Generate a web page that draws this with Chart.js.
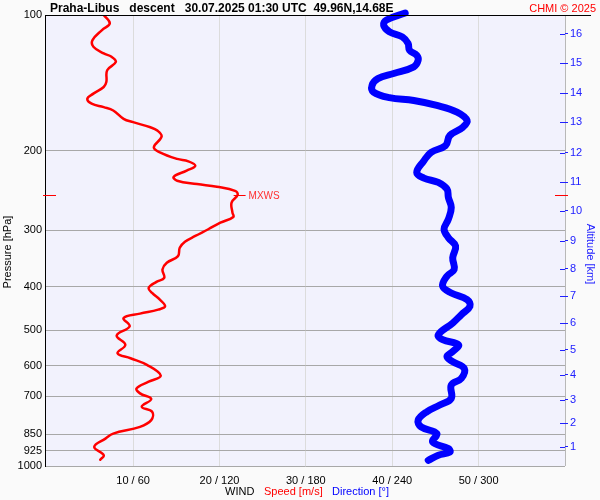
<!DOCTYPE html>
<html>
<head>
<meta charset="utf-8">
<title>Praha-Libus descent</title>
<script src="https://cdn.jsdelivr.net/npm/chart.js@4"></script>
<style>
    html, body { margin: 0; padding: 0; background: #fafafa; }
    #wrap { position: relative; width: 600px; height: 500px; }
</style>
</head>
<body>
<div id="wrap"><canvas id="chart" width="600" height="500"></canvas></div>
<script>
// wind speed profile (m/s) against pressure (hPa)
const speedPressure = [100, 104.4, 108, 113.7, 117.6, 121.7, 123.8, 127.1, 132.6, 140.8, 144.4, 149.4, 153.3, 157.3, 160.1,
    162.8, 169.9, 172.8, 177.4, 180.4, 186, 196.5, 201.6, 208.5, 211.1, 215.9, 221.4, 228.4, 233.1, 237.1, 240.4, 245.4,
    250.5, 260.5, 274.2, 280.4, 288.7, 298.6, 309, 318.2, 328.1, 342.4, 354.4, 366.6, 382.7, 390.7, 402.9, 413.4, 427.6,
    442.5, 450.1, 459.4, 469.9, 490.3, 513.5, 538.6, 562.3, 576.8, 596.7, 630.4, 650.1, 672.8, 690.2, 710.3, 738.9,
    758.1, 791.1, 818.8, 847.5, 869.5, 907.1, 946.6, 968.3];
const speedValues = [6.6, 7.3, 6.4, 5.3, 5.4, 6.6, 7.5, 8.0, 7.0, 6.9, 6.6, 5.4, 4.7, 5.2, 6.6,
    7.7, 8.9, 10.0, 12.0, 12.8, 13.3, 12.4, 13.1, 15.1, 16.4, 17.2, 16.2, 14.7, 15.1, 17.4, 19.7, 21.8,
    22.1, 21.4, 21.5, 21.6, 20.1, 18.7, 17.2, 16.0, 15.4, 15.2, 13.9, 13.4, 13.6, 12.7, 11.8, 12.2, 13.1,
    13.7, 12.9, 10.8, 8.9, 9.6, 8.1, 9.1, 8.2, 9.7, 11.6, 13.2, 11.8, 10.4, 10.8, 12.1, 11.0,
    12.2, 12.1, 10.8, 7.7, 6.8, 5.5, 6.6, 6.2];

// wind direction profile (deg)
const dirPressure = [99, 102.6, 105.3, 108.9, 111.8, 115.6, 119.7, 122.8, 126, 130.3, 134.8, 138.4, 143.2, 148.2, 152.5,
    154.7, 158.7, 164.2, 171.4, 177.4, 185, 194.8, 201.6, 210.4, 223.4, 229.9, 235.1, 243.2, 253.9, 267.3, 283.6,
    298.6, 311.7, 325.3, 345.4, 366.6, 379.4, 399.4, 413.4, 427.6, 442.5, 461.8, 482.1, 511.6, 524.8, 538.6, 557.4,
    571.9, 586.8, 607.3, 639.2, 661.2, 708.2, 732.5, 758.1, 791.1, 818.8, 847.5, 884.3, 915, 930.8, 946.6, 971.2];
const dirValues = [249, 236, 234, 238, 247, 251, 252, 257, 258, 255, 241, 230, 226, 227, 238,
    255, 271, 285, 292, 289, 280, 277, 267, 262, 257, 262, 272, 278, 279, 281, 279,
    276, 279, 284, 282, 283, 278, 275, 281, 292, 294, 288, 282, 272, 275, 286, 282,
    278, 282, 290, 288, 281, 281, 273, 264, 258, 260, 271, 268, 279, 280, 272, 265];

// axes
const pressureTicks = [100, 200, 300, 400, 500, 600, 700, 850, 925, 1000];
const speedTicks = [10, 20, 30, 40, 50, 60];
const altitudeKm = [1, 2, 3, 4, 5, 6, 7, 8, 9, 10, 11, 12, 13, 14, 15, 16];
const altitudePressure = [907, 803, 713, 628, 552, 483, 420, 365, 317, 272, 235, 202, 173, 149, 128, 110];

// maximum wind
const mxwsPressure = 250.5;
const mxwsSpeed = 22.1;

const FONT = 'Arial, "Liberation Sans", sans-serif';

const decorPlugin = {
    id: 'decor',
    beforeDraw(chart) {
        const c = chart.ctx, a = chart.chartArea;
        c.save();
        c.fillStyle = '#fafafa';
        c.fillRect(0, 0, chart.width, chart.height);
        c.fillStyle = '#f2f2fd';
        c.fillRect(a.left, a.top, a.right - a.left, a.bottom - a.top);
        c.restore();
    },
    afterDraw(chart) {
        const c = chart.ctx, a = chart.chartArea;
        const y = chart.scales.y, x = chart.scales.x;
        c.save();

        // top line
        c.strokeStyle = '#000';
        c.lineWidth = 1;
        c.beginPath();
        c.moveTo(a.left, Math.round(a.top) + 0.5);
        c.lineTo(591, Math.round(a.top) + 0.5);
        c.stroke();

        // title
        c.textBaseline = 'alphabetic';
        c.textAlign = 'left';
        c.fillStyle = '#000';
        c.font = 'bold 12px ' + FONT;
        c.fillText('Praha-Libus   descent   30.07.2025 01:30 UTC  49.96N,14.68E', 50, 12);
        c.textAlign = 'right';
        c.fillStyle = '#ff0000';
        c.font = '11px ' + FONT;
        c.fillText('CHMI \u00a9 2025', 596, 12);

        // inner part of altitude tick marks
        c.strokeStyle = '#2020ff';
        altitudePressure.forEach(p => {
            const py = Math.round(y.getPixelForValue(p)) + 0.5;
            c.beginPath();
            c.moveTo(a.right - 5, py);
            c.lineTo(a.right, py);
            c.stroke();
        });

        // maximum wind marks
        const my = Math.round(y.getPixelForValue(mxwsPressure)) + 0.5;
        const mx = x.getPixelForValue(mxwsSpeed);
        c.strokeStyle = '#ff0000';
        c.beginPath();
        c.moveTo(a.left - 2, my); c.lineTo(a.left + 11, my);
        c.moveTo(a.right - 10, my); c.lineTo(a.right + 3, my);
        c.moveTo(mx - 4, my); c.lineTo(mx + 8, my);
        c.stroke();
        c.fillStyle = '#ff3030';
        c.font = '10px ' + FONT;
        c.textAlign = 'left';
        c.textBaseline = 'middle';
        c.fillText('MXWS', mx + 11, my + 1);

        // bottom legend
        c.textBaseline = 'alphabetic';
        c.font = '11px ' + FONT;
        c.fillStyle = '#000';
        c.fillText('WIND', 225, 495);
        c.fillStyle = '#ff0000';
        c.fillText('Speed [m/s]', 264, 495);
        c.fillStyle = '#0000ff';
        c.fillText('Direction [\u00b0]', 332, 495);

        // axis titles
        c.textAlign = 'center';
        c.textBaseline = 'middle';
        c.save();
        c.translate(8, 252);
        c.rotate(-Math.PI / 2);
        c.fillStyle = '#000';
        c.fillText('Pressure [hPa]', 0, 0);
        c.restore();
        c.save();
        c.translate(590, 254);
        c.rotate(Math.PI / 2);
        c.fillStyle = '#2020ff';
        c.fillText('Altitude [km]', 0, 0);
        c.restore();

        c.restore();
    }
};

const ctx = document.getElementById('chart').getContext('2d');
new Chart(ctx, {
    type: 'scatter',
    data: {
        datasets: [
            {
                label: 'Speed [m/s]',
                data: speedPressure.map((p, i) => ({ x: speedValues[i], y: p })),
                xAxisID: 'x',
                yAxisID: 'y',
                showLine: true,
                borderColor: '#ff0000',
                borderWidth: 2.5,
                pointRadius: 0,
                tension: 0.4,
                borderCapStyle: 'round',
                borderJoinStyle: 'round'
            },
            {
                label: 'Direction [°]',
                data: dirPressure.map((p, i) => ({ x: dirValues[i], y: p })),
                xAxisID: 'xDir',
                yAxisID: 'y',
                showLine: true,
                borderColor: '#0000ff',
                borderWidth: 7,
                pointRadius: 0,
                tension: 0.4,
                clip: false,
                borderCapStyle: 'round',
                borderJoinStyle: 'round'
            }
        ]
    },
    options: {
        responsive: false,
        animation: false,
        events: [],
        layout: { padding: { top: 15, left: 0, right: 0, bottom: 0 } },
        plugins: {
            legend: { display: false },
            tooltip: { enabled: false }
        },
        scales: {
            x: {
                type: 'linear',
                position: 'bottom',
                min: -0.2,
                max: 60,
                afterBuildTicks: s => { s.ticks = speedTicks.map(v => ({ value: v })); },
                afterFit: s => { s.height = 34; },
                ticks: {
                    color: '#000',
                    font: { size: 11, family: FONT },
                    padding: 8,
                    maxRotation: 0,
                    autoSkip: false,
                    callback: v => v === 60 ? '' : v + ' / ' + v * 6
                },
                grid: {
                    drawTicks: false,
                    color: c => c.tick && c.tick.value === 60 ? '#b8b8b8' : '#dcdcdc'
                },
                border: { display: false }
            },
            xDir: {
                type: 'linear',
                display: false,
                min: -1.2,
                max: 360
            },
            y: {
                type: 'logarithmic',
                position: 'left',
                reverse: true,
                min: 100,
                max: 1000,
                afterBuildTicks: s => { s.ticks = pressureTicks.map(v => ({ value: v })); },
                afterFit: s => { s.width = 45; },
                ticks: {
                    color: '#000',
                    font: { size: 11, family: FONT },
                    padding: 3,
                    autoSkip: false,
                    callback: v => String(v)
                },
                grid: { drawTicks: false, color: '#a8a8a8' },
                border: { display: true, color: '#000', width: 1 }
            },
            yAlt: {
                type: 'logarithmic',
                position: 'right',
                reverse: true,
                min: 100,
                max: 1000,
                afterBuildTicks: s => { s.ticks = altitudePressure.map(v => ({ value: v })); },
                afterFit: s => { s.width = 35; },
                ticks: {
                    color: '#2020ff',
                    font: { size: 11, family: FONT },
                    padding: 2,
                    autoSkip: false,
                    callback: v => String(altitudeKm[altitudePressure.indexOf(v)])
                },
                grid: { drawOnChartArea: false, drawTicks: true, tickLength: 3, color: '#2020ff' },
                border: { display: false }
            }
        }
    },
    plugins: [decorPlugin]
});
</script>
</body>
</html>
